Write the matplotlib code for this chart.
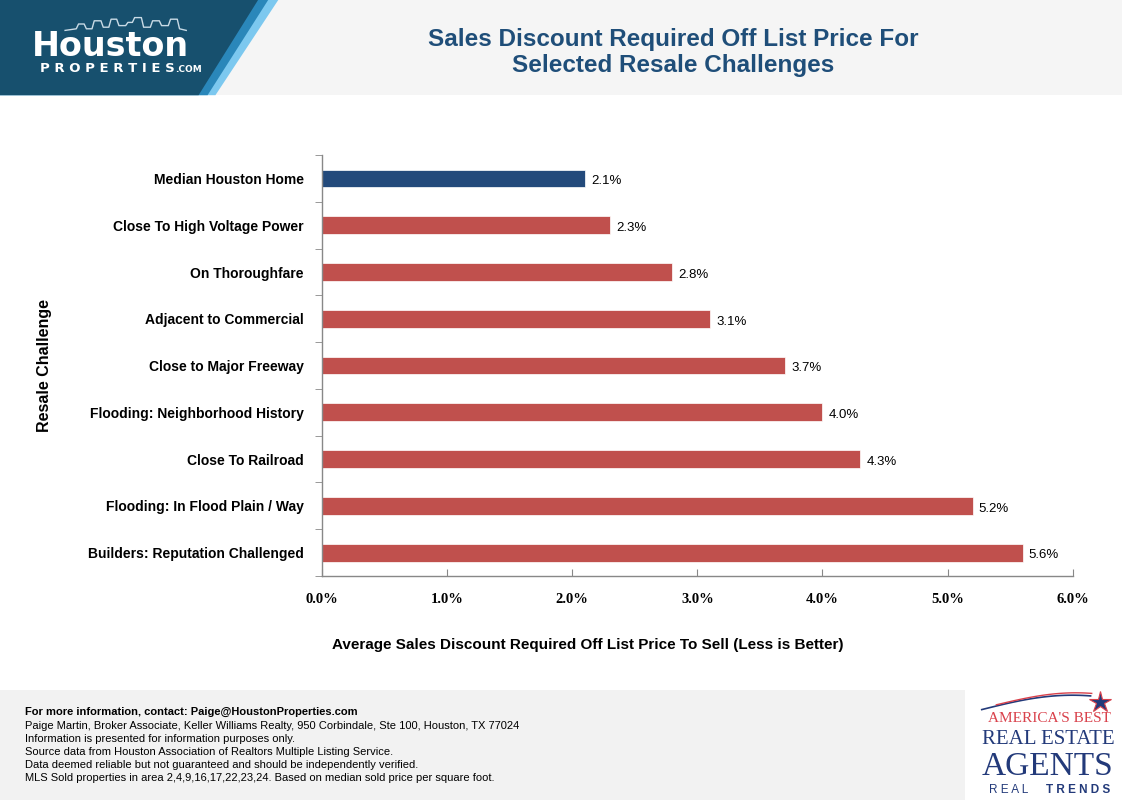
import matplotlib
matplotlib.use('Agg')
import matplotlib.pyplot as plt
import matplotlib.ticker as mticker
from matplotlib.patches import Polygon, Rectangle
import numpy as np

categorias = [
    "Median Houston Home",
    "Close To High Voltage Power",
    "On Thoroughfare",
    "Adjacent to Commercial",
    "Close to Major Freeway",
    "Flooding: Neighborhood History",
    "Close To Railroad",
    "Flooding: In Flood Plain / Way",
    "Builders: Reputation Challenged",
]
descontos = [2.1, 2.3, 2.8, 3.1, 3.7, 4.0, 4.3, 5.2, 5.6]
cores = ["#234a7b"] + ["#c0504d"] * 8
ticks_x = [0, 1, 2, 3, 4, 5, 6]

azul_titulo = "#1f4e79"

fig = plt.figure(figsize=(11.22, 8), dpi=100)
fig.patch.set_facecolor("white")

# faixa do cabeçalho
fig.patches.append(Rectangle((0, 0.881), 1, 0.119, transform=fig.transFigure,
                             facecolor="#f5f5f5", edgecolor="none", zorder=0))
fig.patches.append(Polygon([(0, 0.881), (0.192, 0.881), (0.248, 1), (0, 1)],
                           closed=True, transform=fig.transFigure,
                           facecolor="#7cc8ef", edgecolor="none", zorder=1))
fig.patches.append(Polygon([(0, 0.881), (0.185, 0.881), (0.239, 1), (0, 1)],
                           closed=True, transform=fig.transFigure,
                           facecolor="#2a87ba", edgecolor="none", zorder=1))
fig.patches.append(Polygon([(0, 0.881), (0.177, 0.881), (0.230, 1), (0, 1)],
                           closed=True, transform=fig.transFigure,
                           facecolor="#17506e", edgecolor="none", zorder=2))

# skyline simples do logo
sx = [0.058, 0.068, 0.070, 0.075, 0.077, 0.082, 0.084, 0.090, 0.092, 0.097, 0.099,
      0.104, 0.106, 0.112, 0.114, 0.118, 0.120, 0.126, 0.128, 0.134, 0.136, 0.142,
      0.144, 0.150, 0.152, 0.158, 0.160, 0.166]
sy = [0.962, 0.964, 0.970, 0.970, 0.964, 0.964, 0.974, 0.974, 0.966, 0.966, 0.976,
      0.976, 0.968, 0.968, 0.972, 0.972, 0.978, 0.978, 0.966, 0.966, 0.974, 0.974,
      0.968, 0.968, 0.976, 0.976, 0.964, 0.962]
fig.lines.append(plt.Line2D(sx, sy, transform=fig.transFigure, color="#c9dbe6",
                            linewidth=1, zorder=3))
fig.text(0.098, 0.942, "Houston", color="white", fontsize=24, fontweight="bold",
         ha="center", va="center", family="DejaVu Sans", zorder=4)
fig.text(0.096, 0.915, "P R O P E R T I E S", color="white", fontsize=9.5,
         fontweight="bold", ha="center", va="center", zorder=4)
fig.text(0.156, 0.913, ".COM", color="white", fontsize=6.5, fontweight="bold",
         ha="left", va="center", zorder=4)

fig.text(0.60, 0.934, "Sales Discount Required Off List Price For\nSelected Resale Challenges",
         color=azul_titulo, fontsize=17.5, fontweight="bold", ha="center", va="center",
         family="Liberation Sans", linespacing=1.15)

# rodapé
fig.patches.append(Rectangle((0, 0), 0.860, 0.137, transform=fig.transFigure,
                             facecolor="#f2f2f2", edgecolor="none", zorder=0))
rodape = [
    "Paige Martin, Broker Associate, Keller Williams Realty, 950 Corbindale, Ste 100, Houston, TX 77024",
    "Information is presented for information purposes only.",
    "Source data from Houston Association of Realtors Multiple Listing Service.",
    "Data deemed reliable but not guaranteed and should be independently verified.",
    "MLS Sold properties in area 2,4,9,16,17,22,23,24. Based on median sold price per square foot.",
]
fig.text(0.022, 0.110, "For more information, contact: Paige@HoustonProperties.com",
         fontsize=8, fontweight="bold", family="Liberation Sans", va="center")
for i, linha in enumerate(rodape):
    fig.text(0.022, 0.093 - i * 0.0165, linha, fontsize=8, family="Liberation Sans",
             va="center")

# logo realtrends
fig.text(0.935, 0.102, "AMERICA'S BEST", color="#d9414b", fontsize=11,
         family="Liberation Serif", ha="center", va="center")
fig.text(0.934, 0.075, "REAL ESTATE", color="#233a7a", fontsize=15,
         family="Liberation Serif", ha="center", va="center")
fig.text(0.934, 0.042, "AGENTS", color="#233a7a", fontsize=24,
         family="Liberation Serif", ha="center", va="center")
fig.text(0.899, 0.012, "R E A L", color="#233a7a", fontsize=8.5,
         family="Liberation Sans", ha="center", va="center")
fig.text(0.961, 0.012, "T R E N D S", color="#233a7a", fontsize=8.5, fontweight="bold",
         family="Liberation Sans", ha="center", va="center")
t = np.linspace(0, 1, 30)
fig.lines.append(plt.Line2D(0.875 + 0.097 * t, 0.113 + 0.018 * np.sin(t * np.pi * 0.6),
                            transform=fig.transFigure, color="#233a7a", linewidth=1.2))
fig.lines.append(plt.Line2D(0.888 + 0.085 * t, 0.119 + 0.015 * np.sin(t * np.pi * 0.6),
                            transform=fig.transFigure, color="#d9414b", linewidth=1.0))
fig.lines.append(plt.Line2D([0.980], [0.122], transform=fig.transFigure, marker="*",
                            markersize=16, color="#233a7a", markeredgecolor="#d9414b",
                            markeredgewidth=0.8, linestyle="none"))

# gráfico principal
ax = fig.add_axes([0.287, 0.280, 0.669, 0.526])
y = np.arange(len(categorias))
bars = ax.barh(y, descontos, height=0.38, color=cores, edgecolor="white",
               linewidth=0.5, zorder=2)
for b, v in zip(bars, descontos):
    ax.text(b.get_width() + 0.05, b.get_y() + b.get_height() / 2 + 0.06, f"{v:.1f}%",
            va="center", ha="left", fontsize=9.5, family="Liberation Sans")

ax.set_ylim(len(categorias) - 0.5, -0.5)
ax.set_xlim(0, 6)
ax.set_yticks(y)
ax.set_yticklabels(categorias, fontsize=10, fontweight="bold", family="Liberation Sans")
ax.set_yticks(np.arange(-0.5, len(categorias)), minor=True)
ax.tick_params(axis="y", which="major", length=0, pad=13)
ax.tick_params(axis="y", which="minor", length=5, color="#888888", direction="out")

ax.set_xticks(ticks_x)
ax.xaxis.set_major_formatter(mticker.FuncFormatter(lambda v, p: f"{v:.1f}%"))
for lab in ax.get_xticklabels():
    lab.set_family("Liberation Serif")
    lab.set_fontweight("bold")
    lab.set_fontsize(10.5)
ax.tick_params(axis="x", length=5, direction="in", color="#888888", pad=12)

for s in ["top", "right"]:
    ax.spines[s].set_visible(False)
for s in ["left", "bottom"]:
    ax.spines[s].set_color("#888888")
    ax.spines[s].set_linewidth(1)

ax.set_xlabel("Average Sales Discount Required Off List Price To Sell (Less is Better)",
              fontsize=11, fontweight="bold", family="Liberation Sans")
ax.xaxis.set_label_coords(0.354, -0.147)
ax.set_ylabel("Resale Challenge", fontsize=11.5, fontweight="bold",
              family="Liberation Sans")
ax.yaxis.set_label_coords(-0.36, 0.5)

fig.savefig("out.png", dpi=100, facecolor=fig.get_facecolor())
